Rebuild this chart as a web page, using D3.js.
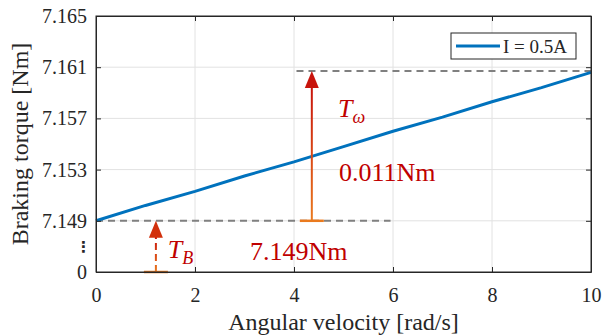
<!DOCTYPE html>
<html>
<head>
<meta charset="utf-8">
<script src="https://cdn.jsdelivr.net/npm/d3@7"></script>
<style>
    body { margin: 0; background: #fff; }
    svg text { font-family: "Liberation Serif", "Times New Roman", serif; }
    svg text.ellipsis { font-family: "DejaVu Sans", sans-serif; }
</style>
</head>
<body>
<div id="chart"></div>
<script>
// data
const omega = [0, 1, 2, 3, 4, 5, 6, 7, 8, 9, 10];
const torque = [7.1490, 7.1502, 7.1513, 7.1525, 7.1536, 7.1548, 7.1560, 7.1571, 7.1583, 7.1594, 7.1606];
const xTicks = [0, 2, 4, 6, 8, 10];
// 7.145 stands for the broken "0" level, 7.147 for the ellipsis
const yTicks = [7.145, 7.147, 7.149, 7.153, 7.157, 7.161, 7.165];
const yTickLabels = ["0", "\u22EE", "7.149", "7.153", "7.157", "7.161", "7.165"];
const legendLabel = "I = 0.5A";

// annotation values
const baseLevel = 7.149;
const topLevel = 7.1607;
const zeroLevel = 7.145;
const tOmegaAt = 4.36;
const tBAt = 1.21;

const width = 603,
    height = 335,
    margin = { top: 16, right: 12, bottom: 63, left: 96 };
const innerW = width - margin.left - margin.right,
    innerH = height - margin.top - margin.bottom;

const axisColor = "#262626",
    blue = "#0072BD",
    red = "#c8140c",
    orange = "#ea7a1e",
    textRed = "#c00000";

const svg = d3.select("#chart").append("svg")
    .attr("width", width)
    .attr("height", height);

const defs = svg.append("defs");

const g = svg.append("g")
    .attr("transform", `translate(${margin.left},${margin.top})`);

const x = d3.scaleLinear().domain([0, 10]).range([0, innerW]);
const y = d3.scaleLinear().domain([7.145, 7.165]).range([innerH, 0]);

// grid
g.append("g").selectAll("line")
    .data(xTicks.slice(1, -1))
    .enter().append("line")
    .attr("x1", d => x(d)).attr("x2", d => x(d))
    .attr("y1", 0).attr("y2", innerH)
    .attr("stroke", "#e2e2e2").attr("stroke-width", 1);

g.append("g").selectAll("line")
    .data(yTicks.filter(v => v >= 7.149 && v < 7.165))
    .enter().append("line")
    .attr("x1", 0).attr("x2", innerW)
    .attr("y1", d => y(d)).attr("y2", d => y(d))
    .attr("stroke", "#e2e2e2").attr("stroke-width", 1);

// dashed reference levels
g.append("line")
    .attr("x1", x(0)).attr("x2", x(5.95))
    .attr("y1", y(baseLevel)).attr("y2", y(baseLevel))
    .attr("stroke", "#808080").attr("stroke-width", 2)
    .attr("stroke-dasharray", "7,5");

g.append("line")
    .attr("x1", x(4.05)).attr("x2", x(10))
    .attr("y1", y(topLevel)).attr("y2", y(topLevel))
    .attr("stroke", "#808080").attr("stroke-width", 2)
    .attr("stroke-dasharray", "7,5");

// torque line
const line = d3.line()
    .x((d, i) => x(omega[i]))
    .y(d => y(d));

g.append("path")
    .datum(torque)
    .attr("fill", "none")
    .attr("stroke", blue)
    .attr("stroke-width", 3)
    .attr("d", line);

// arrows
function gradient(id, y1, y2) {
    const lg = defs.append("linearGradient")
        .attr("id", id)
        .attr("gradientUnits", "userSpaceOnUse")
        .attr("x1", 0).attr("x2", 0)
        .attr("y1", y1).attr("y2", y2);
    lg.append("stop").attr("offset", "0%").attr("stop-color", orange);
    lg.append("stop").attr("offset", "100%").attr("stop-color", red);
}

function arrow(id, xv, from, to, dashed) {
    const ax = x(xv), y0 = y(from), y1 = y(to);
    const headH = 17, headW = 14;
    gradient(id, y0, y1 + headH);
    g.append("line")
        .attr("x1", ax).attr("x2", ax)
        .attr("y1", y0).attr("y2", y1 + headH - 1)
        .attr("stroke", `url(#${id})`)
        .attr("stroke-width", 2)
        .attr("stroke-dasharray", dashed ? "7,4" : null);
    g.append("line")
        .attr("x1", ax - 12).attr("x2", ax + 12)
        .attr("y1", y0).attr("y2", y0)
        .attr("stroke", orange).attr("stroke-width", 2.5);
    g.append("path")
        .attr("d", `M${ax},${y1} L${ax - headW / 2},${y1 + headH} L${ax + headW / 2},${y1 + headH} Z`)
        .attr("fill", dashed ? "#d2300c" : red);
}

arrow("gradOmega", tOmegaAt, baseLevel, topLevel, false);
arrow("gradB", tBAt, zeroLevel, baseLevel, true);

// annotation texts
function subLabel(xv, yv, main, sub) {
    const t = g.append("text")
        .attr("x", x(xv)).attr("y", y(yv))
        .attr("fill", textRed)
        .attr("font-size", 26)
        .attr("font-style", "italic");
    t.append("tspan").text(main);
    t.append("tspan").attr("font-size", 18).attr("dy", 6).text(sub);
}

subLabel(4.89, 7.15713, "T", "\u03C9");
subLabel(1.45, 7.14609, "T", "B");

g.append("text")
    .attr("x", x(4.91)).attr("y", y(7.15213))
    .attr("fill", textRed).attr("font-size", 26)
    .text("0.011Nm");

g.append("text")
    .attr("x", x(3.11)).attr("y", y(7.14594))
    .attr("fill", textRed).attr("font-size", 26)
    .text("7.149Nm");

// axes
const xAxis = g.append("g")
    .attr("transform", `translate(0,${innerH})`)
    .call(d3.axisBottom(x).tickValues(xTicks).tickFormat(d3.format("d"))
        .tickSizeInner(-5).tickSizeOuter(0).tickPadding(16));

const yAxis = g.append("g")
    .call(d3.axisLeft(y).tickValues(yTicks)
        .tickFormat((d, i) => yTickLabels[i])
        .tickSizeInner(-5).tickSizeOuter(0).tickPadding(9));

g.append("g")
    .call(d3.axisTop(x).tickValues(xTicks).tickFormat("")
        .tickSizeInner(-5).tickSizeOuter(0));

g.append("g")
    .attr("transform", `translate(${innerW},0)`)
    .call(d3.axisRight(y).tickValues(yTicks.filter(v => v >= 7.149)).tickFormat("")
        .tickSizeInner(-5).tickSizeOuter(0));

[xAxis, yAxis].forEach(a => a.attr("font-size", 20).attr("font-family", null));

// the ellipsis has no tick mark
const gap = yAxis.selectAll(".tick").filter(d => d === 7.147);
gap.select("line").remove();
gap.select("text").attr("class", "ellipsis").attr("font-size", 15).attr("font-weight", "bold").attr("dx", 4);

svg.selectAll(".domain").attr("stroke", axisColor);
svg.selectAll(".tick line").attr("stroke", axisColor);
svg.selectAll(".tick text").attr("fill", axisColor);

// box
g.append("rect")
    .attr("width", innerW).attr("height", innerH)
    .attr("fill", "none").attr("stroke", axisColor).attr("stroke-width", 1);

// axis labels
svg.append("text")
    .attr("x", margin.left + innerW / 2)
    .attr("y", 330)
    .attr("text-anchor", "middle")
    .attr("font-size", 24)
    .attr("fill", axisColor)
    .text("Angular velocity [rad/s]");

svg.append("text")
    .attr("transform", `translate(28,${margin.top + innerH / 2}) rotate(-90)`)
    .attr("text-anchor", "middle")
    .attr("font-size", 24)
    .attr("fill", axisColor)
    .text("Braking torque [Nm]");

// legend
const legend = svg.append("g").attr("transform", "translate(451,33)");
legend.append("rect")
    .attr("width", 125).attr("height", 26)
    .attr("fill", "#fff").attr("stroke", axisColor).attr("stroke-width", 1);
legend.append("line")
    .attr("x1", 5).attr("x2", 49)
    .attr("y1", 13).attr("y2", 13)
    .attr("stroke", blue).attr("stroke-width", 3);
legend.append("text")
    .attr("x", 52).attr("y", 20)
    .attr("font-size", 19)
    .attr("fill", axisColor)
    .text(legendLabel);
</script>
</body>
</html>
